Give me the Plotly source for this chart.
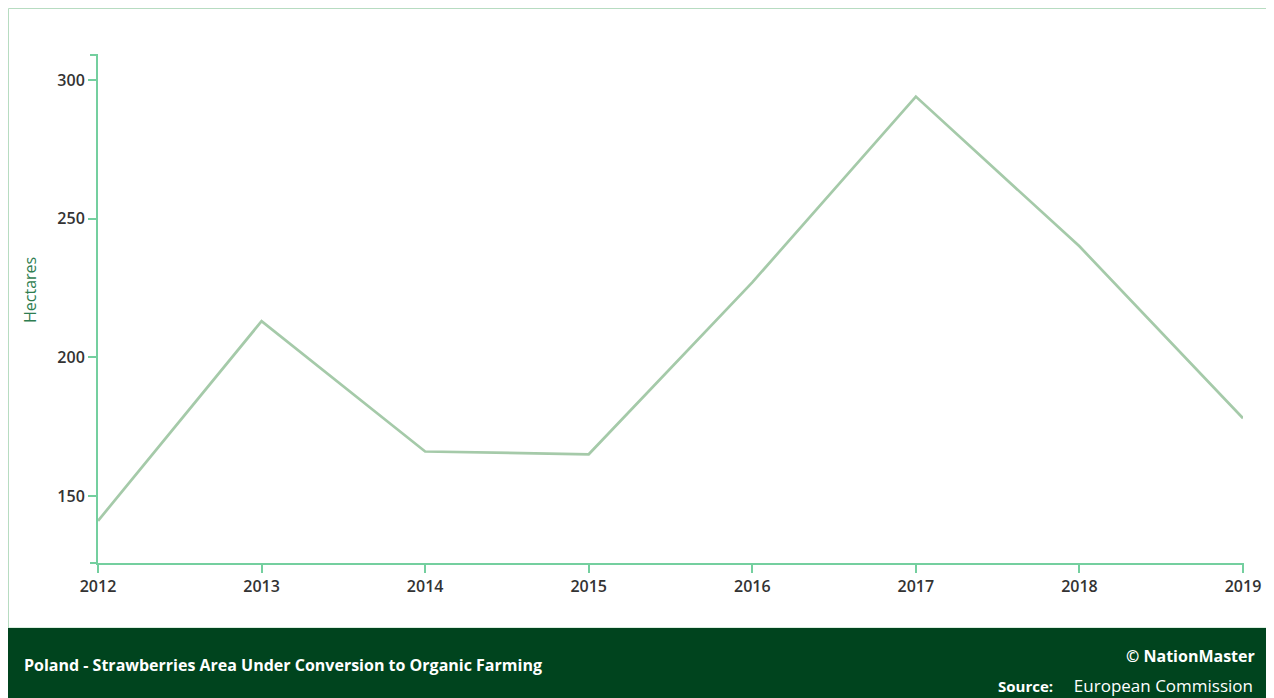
import plotly.graph_objects as go

years = [2012, 2013, 2014, 2015, 2016, 2017, 2018, 2019]
hectares = [141, 213, 166, 165, 227, 294, 240, 178]
y_ticks = [150, 200, 250, 300]

title_text = "Poland - Strawberries Area Under Conversion to Organic Farming"
brand_text = "© NationMaster"
source_label = "Source:"
source_text = "European Commission"

# page body has an 8px margin, so figure pixel = reference pixel - 8
OFF = 8
W, H = 1266, 690
L, R, T, B = 90, 31, 47, 135
pw = W - L - R
ph = H - T - B

def px_x(x):
    return (x - OFF - L) / pw

def px_y(y):
    return (H - B - (y - OFF)) / ph

axis_col = "#74cf9f"
tick_font = dict(family="Open Sans", size=16, color="#333333", weight=600)

fig = go.Figure()
fig.add_trace(go.Scatter(
    x=years, y=hectares, mode="lines",
    line=dict(color="#a5caa9", width=2.7),
    hoverinfo="x+y", showlegend=False,
))

shapes = [
    dict(type="rect", xref="paper", yref="paper",
         x0=px_x(8.5), x1=px_x(1273), y0=px_y(628), y1=px_y(8.5),
         line=dict(color="#b7dcc1", width=1), fillcolor="rgba(0,0,0,0)", layer="below"),
    dict(type="rect", xref="paper", yref="paper",
         x0=px_x(8), x1=px_x(1290), y0=px_y(710), y1=px_y(628),
         line=dict(width=0), fillcolor="#00441e", layer="below"),
    dict(type="line", xref="paper", yref="paper",
         x0=px_x(90), x1=0, y0=1, y1=1, line=dict(color=axis_col, width=2)),
    dict(type="line", xref="paper", yref="paper",
         x0=px_x(90), x1=0, y0=0, y1=0, line=dict(color=axis_col, width=2)),
    dict(type="line", xref="paper", yref="paper",
         x0=1, x1=1, y0=0, y1=px_y(571), line=dict(color=axis_col, width=2)),
]

source_html = ("<span style='font-size:15px;font-weight:700'>" + source_label + "</span>"
               + "\u00a0\u00a0\u00a0\u00a0\u00a0"
               + "<span style='font-size:17px'>" + source_text + "</span>")

annotations = [
    dict(text=title_text, xref="paper", yref="paper", x=px_x(22), y=px_y(665),
         xanchor="left", yanchor="middle", showarrow=False,
         font=dict(family="Open Sans", size=16, color="white", weight=700)),
    dict(text=brand_text, xref="paper", yref="paper", x=px_x(1257), y=px_y(656),
         xanchor="right", yanchor="middle", showarrow=False,
         font=dict(family="Open Sans", size=16, color="white", weight=700)),
    dict(text=source_html, xref="paper", yref="paper",
         x=px_x(1255), y=px_y(685), xanchor="right", yanchor="middle", showarrow=False,
         font=dict(family="Open Sans", size=16, color="white")),
    dict(text="Hectares", xref="paper", yref="paper", x=px_x(30), y=px_y(290),
         xanchor="center", yanchor="middle", textangle=-90, showarrow=False,
         font=dict(family="Open Sans", size=16, color="#2e7d50")),
]

fig.update_layout(
    width=W, height=H,
    margin=dict(l=L, r=R, t=T, b=B),
    paper_bgcolor="white", plot_bgcolor="white",
    shapes=shapes, annotations=annotations,
    xaxis=dict(
        range=[2012, 2019], tickmode="array", tickvals=years,
        ticktext=[str(y) for y in years],
        showgrid=False, zeroline=False, showline=True, linecolor=axis_col, linewidth=2,
        ticks="outside", ticklen=8, tickwidth=2, tickcolor=axis_col,
        tickfont=tick_font,
    ),
    yaxis=dict(
        range=[125.8, 309], tickmode="array", tickvals=y_ticks,
        showgrid=False, zeroline=False, showline=True, linecolor=axis_col, linewidth=2,
        ticks="outside", ticklen=8, tickwidth=2, tickcolor=axis_col,
        tickfont=tick_font,
    ),
)

fig.write_html("out.html")
